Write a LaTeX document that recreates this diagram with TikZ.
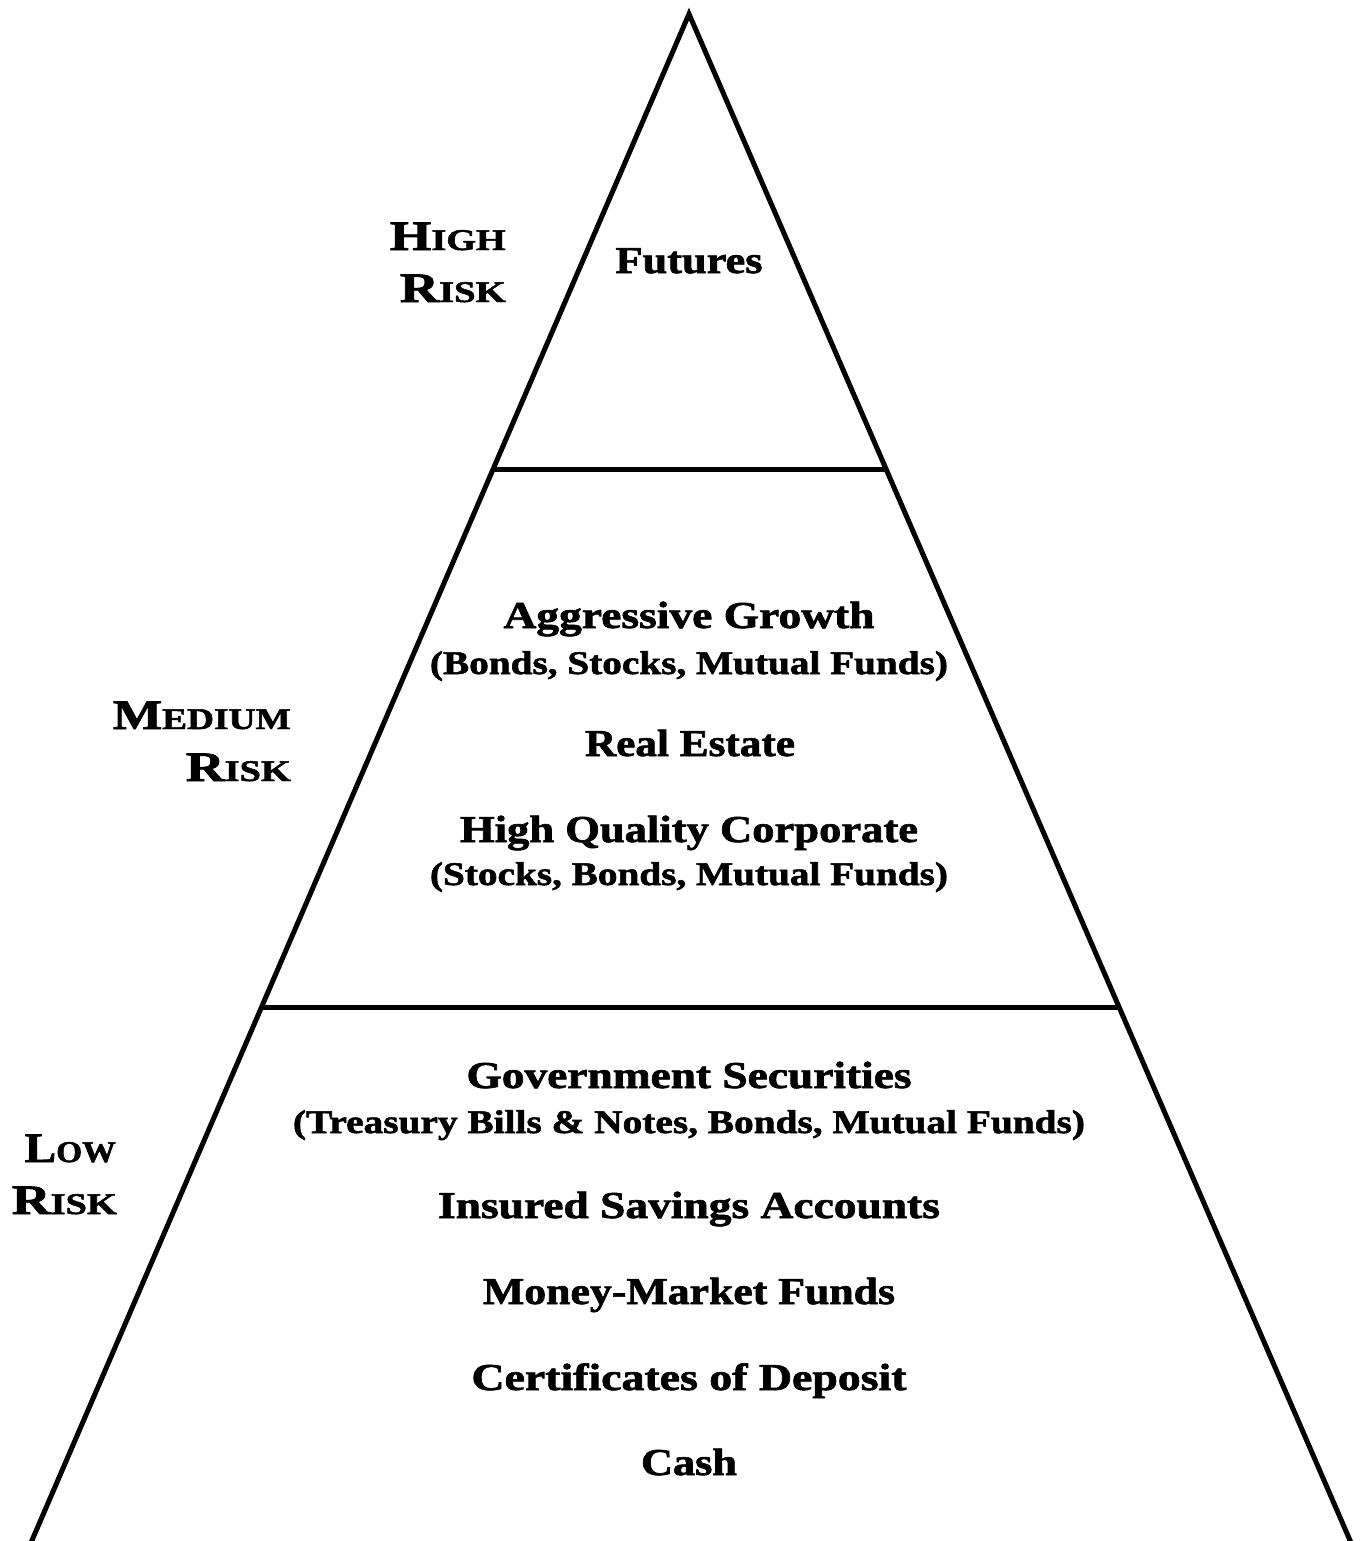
\documentclass[tikz,border=0pt]{standalone}
\usepackage{fontspec}
\setmainfont{Liberation Serif}
\newfontfamily\heavy{Liberation Serif Bold}[FakeBold=1.6]
\usepackage{graphicx}
\usetikzlibrary{calc}
\newcommand{\fitto}[2]{\resizebox{#1pt}{\height}{#2}}
\newcommand{\capsmall}[2]{{\fontsize{42}{44}\selectfont #1}{\fontsize{30}{32}\selectfont #2}}
\begin{document}
\begin{tikzpicture}[x=1pt,y=-1pt,
  edge/.style={line width=5pt},
  item/.style={inner sep=0pt, anchor=base, font=\heavy\fontsize{38}{40}\selectfont},
  sub/.style={inner sep=0pt, anchor=base, font=\heavy\fontsize{33}{35}\selectfont},
  risk/.style={inner sep=0pt, anchor=base east, font=\heavy}]
\useasboundingbox (0,0) rectangle (1361,1541);
\coordinate (apex) at (689,14);
\coordinate (bl) at (30,1545);
\coordinate (br) at (1352,1545);
\draw[edge, line join=miter] (bl) -- (apex) -- (br);
\coordinate (l1) at ($(apex)!0.2978!(bl)$);
\coordinate (r1) at ($(apex)!0.2978!(br)$);
\coordinate (l2) at ($(apex)!0.6492!(bl)$);
\coordinate (r2) at ($(apex)!0.6492!(br)$);
\draw[edge] (l1) -- (r1);
\draw[edge] (l2) -- (r2);

% risk labels
\node[risk] (hi1) at (506,250) {\fitto{116}{\capsmall{H}{IGH}}};
\node[risk] (hi2) at (506,302) {\fitto{106}{\capsmall{R}{ISK}}};
\node[risk] (me1) at (291,729) {\fitto{178}{\capsmall{M}{EDIUM}}};
\node[risk] (me2) at (291,781) {\fitto{105}{\capsmall{R}{ISK}}};
\node[risk] (lo1) at (116,1162) {\fitto{91}{\capsmall{L}{OW}}};
\node[risk] (lo2) at (117,1214) {\fitto{105}{\capsmall{R}{ISK}}};

% items
\node[item] (fut) at (689,273) {\fitto{147}{Futures}};
\node[item] (agg) at (689,628) {\fitto{371}{Aggressive Growth}};
\node[sub] (agg2) at (689,674) {\fitto{518}{(Bonds, Stocks, Mutual Funds)}};
\node[item] (re) at (690,756) {\fitto{210}{Real Estate}};
\node[item] (hq) at (689,842) {\fitto{458}{High Quality Corporate}};
\node[sub] (hq2) at (689,885) {\fitto{518}{(Stocks, Bonds, Mutual Funds)}};
\node[item] (gov) at (689,1088) {\fitto{445}{Government Securities}};
\node[sub] (gov2) at (689,1133) {\fitto{792}{(Treasury Bills \& Notes, Bonds, Mutual Funds)}};
\node[item] (ins) at (689,1218) {\fitto{502}{Insured Savings Accounts}};
\node[item] (mm) at (689,1304) {\fitto{412}{Money-Market Funds}};
\node[item] (cd) at (689,1390) {\fitto{435}{Certificates of Deposit}};
\node[item] (cash) at (689,1475) {\fitto{96}{Cash}};
\end{tikzpicture}
\end{document}
